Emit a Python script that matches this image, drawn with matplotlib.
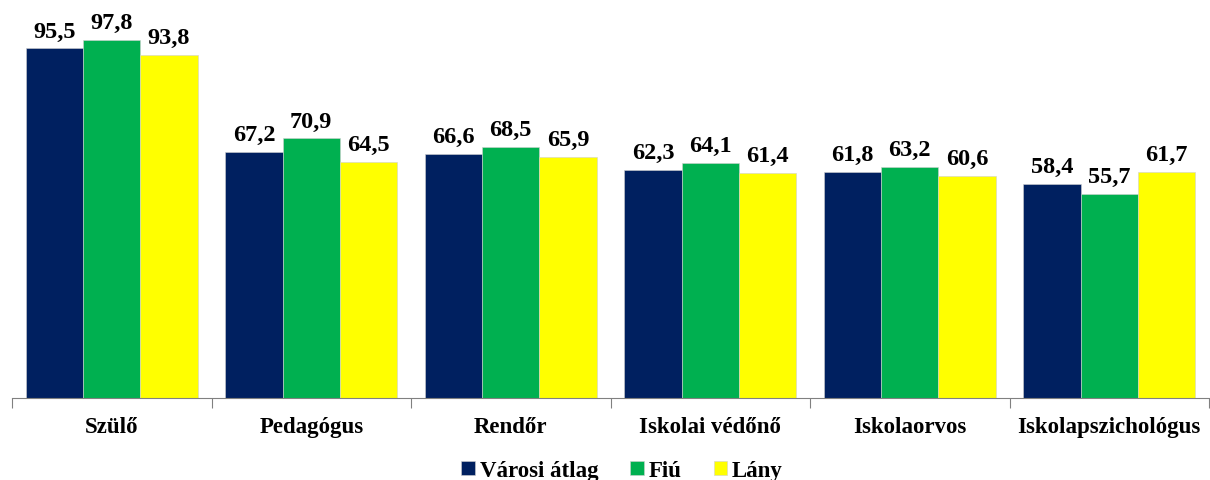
import numpy as np
import matplotlib
matplotlib.use("Agg")
import matplotlib.pyplot as plt

categories = ["Szülő", "Pedagógus", "Rendőr", "Iskolai védőnő", "Iskolaorvos", "Iskolapszichológus"]
series_names = ["Városi átlag", "Fiú", "Lány"]
varosi = [95.5, 67.2, 66.6, 62.3, 61.8, 58.4]
fiu = [97.8, 70.9, 68.5, 64.1, 63.2, 55.7]
lany = [93.8, 64.5, 65.9, 61.4, 60.6, 61.7]
colors = ["#002060", "#00B050", "#FFFF00"]

plt.rcParams['font.family'] = ['Liberation Serif', 'DejaVu Serif']
plt.rcParams['font.weight'] = 'bold'

fig = plt.figure(figsize=(12.1, 4.81), dpi=100)
ax = fig.add_axes([12 / 1210, 82 / 481, 1197 / 1210, 399 / 481])

x = np.arange(len(categories))
w = 0.287
for i, (vals, name, c) in enumerate(zip([varosi, fiu, lany], series_names, colors)):
    bars = ax.bar(x + (i - 1) * w, vals, w, color=c, label=name,
                  edgecolor='#d0d0d0', linewidth=0.4)
    for b, v in zip(bars, vals):
        ax.annotate(f"{v:.1f}".replace(".", ","),
                    (b.get_x() + b.get_width() / 2, b.get_height()),
                    xytext=(0, 5), textcoords="offset points",
                    ha="center", va="bottom", fontsize=17.5, fontweight="bold")

ax.set_xlim(-0.5, len(categories) - 0.5)
ax.set_ylim(0, 109)
ax.set_yticks([])
for s in ["top", "right", "left"]:
    ax.spines[s].set_visible(False)
ax.spines["bottom"].set_color("#808080")
ax.set_xticks(np.arange(-0.5, len(categories), 1.0))
ax.set_xticklabels([])
ax.set_xticks(x, minor=True)
ax.set_xticklabels(categories, minor=True, fontsize=16.5, fontweight="bold")
ax.tick_params(axis="x", which="major", length=7, color="#808080", direction="out")
ax.tick_params(axis="x", which="minor", length=0, pad=13)

fig.legend(loc="lower center", bbox_to_anchor=(0.514, -0.045), ncol=3, frameon=False,
           prop={"size": 16.5, "weight": "bold"}, handlelength=0.6, handleheight=0.6,
           handletextpad=0.2, columnspacing=1.4)

fig.savefig("out.png", dpi=100)
